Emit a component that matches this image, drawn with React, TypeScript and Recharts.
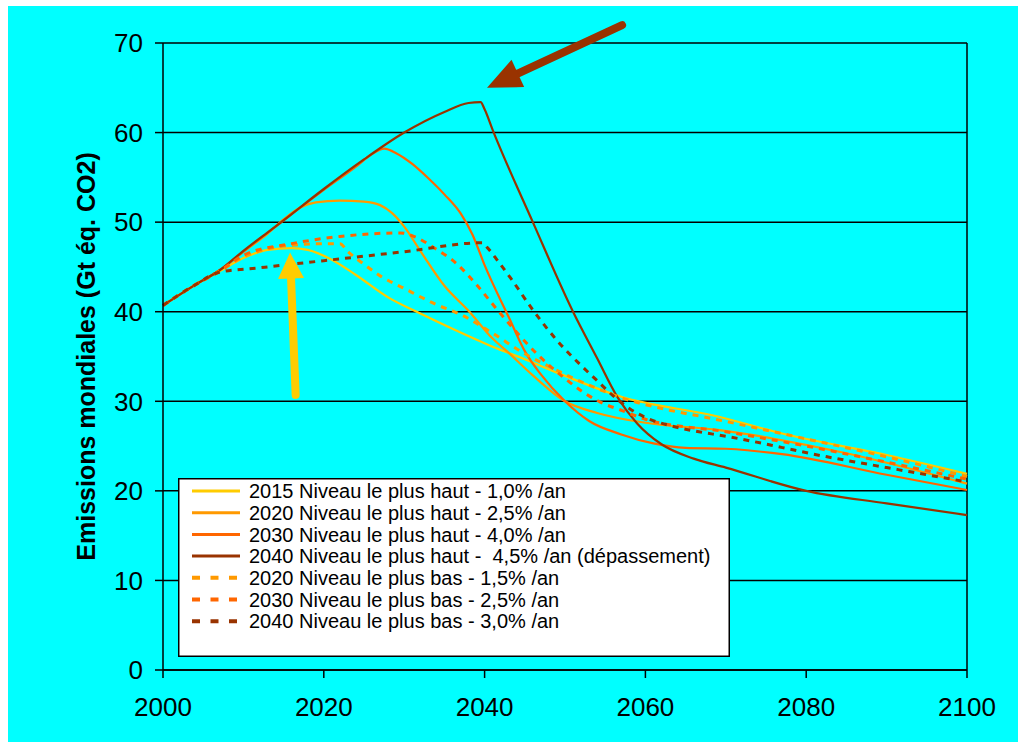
import React from 'react';
import { LineChart, Line, XAxis, YAxis, CartesianGrid, ReferenceLine, Legend } from 'recharts';

type Pt = { year: number; v: number };
const mk = (rows: number[][]): Pt[] => rows.map(([year, v]) => ({ year, v }));

const xTicks = [2000, 2020, 2040, 2060, 2080, 2100];
const yTicks = [0, 10, 20, 30, 40, 50, 60, 70];

const high2015 = mk([
  [2000, 40.7], [2004, 43.0], [2007, 44.5], [2010, 46.0], [2013, 46.9], [2016, 47.1], [2018, 46.9],
  [2021, 45.8], [2024, 44.1], [2028, 41.6], [2032, 39.8], [2036, 38.1], [2041, 36.1], [2045, 34.7],
  [2049, 33.2], [2057, 30.5], [2069, 28.3], [2077, 26.4], [2090, 24.0], [2100, 21.9],
]);

const high2020 = mk([
  [2000, 40.7], [2004, 43.0], [2007, 44.6], [2010, 46.7], [2013, 48.7], [2015, 50.3], [2017, 51.6],
  [2019, 52.2], [2022, 52.4], [2025, 52.3], [2027, 51.9], [2028.5, 51.0], [2030, 49.5], [2032, 46.8],
  [2035, 42.9], [2038, 40.1], [2041, 37.0], [2043, 35.4], [2046, 32.9], [2050, 30.0], [2054, 28.7],
  [2060, 27.6], [2069, 26.8], [2085, 24.2], [2100, 20.8],
]);

const high2030 = mk([
  [2000, 40.7], [2004, 43.0], [2007, 44.6], [2010, 46.7], [2015, 50.2], [2020, 53.6], [2024, 56.2],
  [2026, 57.6], [2027.5, 58.2], [2029, 57.7], [2031, 56.5], [2033, 54.9], [2035, 53.1], [2037, 51.0],
  [2038.5, 48.6], [2040, 45.2], [2043, 39.4], [2045, 35.6], [2047, 33.0], [2050, 30.0], [2053, 27.8],
  [2057, 26.3], [2061, 25.3], [2065, 24.8], [2070, 24.7], [2077, 24.1], [2090, 21.8], [2100, 20.1],
]);

const high2040 = mk([
  [2000, 40.7], [2004, 43.0], [2007, 44.6], [2010, 46.8], [2015, 50.2], [2020, 53.7], [2025, 57.0],
  [2030, 60.0], [2035, 62.3], [2038, 63.3], [2039.5, 63.4], [2040, 62.6], [2041, 60.3], [2046, 50.0],
  [2051, 40.0], [2054, 34.8], [2056.5, 30.5], [2059, 27.5], [2062, 25.2], [2066, 23.6], [2070, 22.6],
  [2080, 20.0], [2090, 18.6], [2100, 17.3],
]);

const low2020 = mk([
  [2000, 40.7], [2004, 43.0], [2007, 44.5], [2010, 46.1], [2013, 47.0], [2017, 47.5], [2020, 47.6],
  [2022, 47.6], [2023, 46.7], [2025, 45.3], [2027, 44.0], [2030, 42.6], [2034, 40.8], [2037, 39.7],
  [2041, 37.6], [2045, 35.3], [2048, 33.9], [2053, 31.8], [2057, 30.4], [2063, 29.0], [2067, 28.3],
  [2080, 25.8], [2090, 23.8], [2100, 21.6],
]);

const low2030 = mk([
  [2000, 40.7], [2004, 43.0], [2007, 44.5], [2010, 46.3], [2016, 47.6], [2022, 48.4], [2026, 48.7],
  [2029.5, 48.8], [2031.5, 48.3], [2033.6, 47.2], [2036.6, 45.3], [2039, 43.0], [2041.5, 40.3],
  [2043.5, 38.2], [2046.5, 35.3], [2050.2, 32.4], [2052.3, 31.0], [2054.4, 29.9], [2057, 29.0],
  [2060, 28.0], [2070, 26.6], [2080, 25.0], [2090, 23.2], [2100, 21.3],
]);

const low2040 = mk([
  [2000, 40.7], [2004, 43.0], [2007, 44.4], [2012, 44.9], [2020, 45.7], [2030, 46.7], [2039.7, 47.7],
  [2040.4, 47.1], [2041.7, 45.6], [2043.2, 43.8], [2046, 40.2], [2049, 36.8], [2052, 34.0],
  [2054, 32.3], [2056, 30.6], [2058, 29.2], [2060, 28.2], [2063, 27.3], [2066, 26.7], [2070, 26.1],
  [2082.6, 23.8], [2090, 22.6], [2100, 21.0],
]);

const seriesNames = [
  '2015 Niveau le plus haut - 1,0% /an',
  '2020 Niveau le plus haut - 2,5% /an',
  '2030 Niveau le plus haut - 4,0% /an',
  '2040 Niveau le plus haut -  4,5% /an (dépassement)',
  '2020 Niveau le plus bas - 1,5% /an',
  '2030 Niveau le plus bas - 2,5% /an',
  '2040 Niveau le plus bas - 3,0% /an',
];
const seriesColors = ['#FFCC00', '#FF9900', '#FF6600', '#993300', '#FF9900', '#FF6600', '#993300'];
const seriesDashed = [false, false, false, false, true, true, true];
const seriesData = [high2015, high2020, high2030, high2040, low2020, low2030, low2040];

// annotation arrows: [fromYear, fromValue, toYear, toValue]
const arrowBrown = [2057.1, 72.0, 2040.3, 65.0];
const arrowYellow = [2016.5, 30.7, 2015.8, 46.6];

const FONT = '"Liberation Sans", Arial, sans-serif';

const makeArrow = (color: string, shaft: number, headLen: number, headHalf: number) => (props: any) => {
  const { x1, y1, x2, y2 } = props;
  const dx = x2 - x1;
  const dy = y2 - y1;
  const len = Math.sqrt(dx * dx + dy * dy) || 1;
  const ux = dx / len;
  const uy = dy / len;
  const nx = -uy;
  const ny = ux;
  const bx = x2 - ux * headLen;
  const by = y2 - uy * headLen;
  return (
    <g>
      <line x1={x1} y1={y1} x2={bx + ux * 2} y2={by + uy * 2} stroke={color} strokeWidth={shaft} strokeLinecap="round" />
      <polygon
        points={`${x2},${y2} ${bx + nx * headHalf},${by + ny * headHalf} ${bx - nx * headHalf},${by - ny * headHalf}`}
        fill={color}
      />
    </g>
  );
};

const renderLegend = () => (
  <svg width={552} height={179} style={{ display: 'block' }}>
    <rect x={0.75} y={0.75} width={550.5} height={177.5} fill="#ffffff" stroke="#000000" strokeWidth={1.5} />
    {seriesNames.map((name, i) => {
      const cy = 13 + i * 21.7;
      return (
        <g key={name}>
          <line
            x1={14}
            x2={62}
            y1={cy}
            y2={cy}
            stroke={seriesColors[i]}
            strokeWidth={seriesDashed[i] ? 4 : 3}
            strokeDasharray={seriesDashed[i] ? '8 10.5' : undefined}
          />
          <text
            x={71}
            y={cy}
            dy="0.36em"
            fontSize={20}
            fontFamily={FONT}
            fill="#000"
            style={{ whiteSpace: 'pre' }}
          >
            {name}
          </text>
        </g>
      );
    })}
  </svg>
);

export default function App() {
  return (
    <div style={{ position: 'fixed', left: 8, top: 6, width: 1010, height: 736, background: '#00FFFF' }}>
      <LineChart width={1010} height={736} margin={{ top: 37, right: 51, bottom: 0, left: 0 }}>
        <CartesianGrid horizontal vertical={false} stroke="#000" strokeWidth={1.5} />
        <XAxis
          dataKey="year"
          type="number"
          domain={[2000, 2100]}
          ticks={xTicks}
          allowDuplicatedCategory={false}
          height={72}
          tickSize={8}
          tickMargin={20}
          stroke="#000"
          strokeWidth={1.5}
          tick={{ fill: '#000', fontSize: 26, fontFamily: FONT }}
          tickLine={{ stroke: '#000', strokeWidth: 1.5 }}
        />
        <YAxis
          type="number"
          domain={[0, 70]}
          ticks={yTicks}
          width={155}
          tickSize={8}
          tickMargin={12}
          stroke="#000"
          strokeWidth={1.5}
          tick={{ fill: '#000', fontSize: 26, fontFamily: FONT }}
          tickLine={{ stroke: '#000', strokeWidth: 1.5 }}
          label={{
            value: 'Emissions mondiales (Gt éq. CO2)',
            angle: -90,
            position: 'insideLeft',
            offset: 78,
            style: { textAnchor: 'middle', fontSize: 25, fontWeight: 'bold', fontFamily: FONT, fill: '#000' },
          }}
        />
        <ReferenceLine x={2100} stroke="#000" strokeWidth={1.5} />
        {seriesData.map((d, i) => (
          <Line
            key={seriesNames[i]}
            data={d}
            dataKey="v"
            name={seriesNames[i]}
            type="monotone"
            stroke={seriesColors[i]}
            strokeWidth={seriesDashed[i] ? 3 : 2.2}
            strokeDasharray={seriesDashed[i] ? '6 6' : undefined}
            dot={false}
            activeDot={false}
            isAnimationActive={false}
          />
        ))}
        <ReferenceLine
          segment={[
            { x: arrowBrown[0], y: arrowBrown[1] },
            { x: arrowBrown[2], y: arrowBrown[3] },
          ]}
          ifOverflow="visible"
          shape={makeArrow('#993300', 8, 34, 15)}
        />
        <ReferenceLine
          segment={[
            { x: arrowYellow[0], y: arrowYellow[1] },
            { x: arrowYellow[2], y: arrowYellow[3] },
          ]}
          ifOverflow="visible"
          shape={makeArrow('#FFCC00', 8, 26, 13)}
        />
        <Legend
          layout="vertical"
          align="center"
          verticalAlign="middle"
          content={renderLegend}
          wrapperStyle={{ position: 'absolute', left: 170, top: 472, width: 552, height: 179 }}
        />
      </LineChart>
    </div>
  );
}
